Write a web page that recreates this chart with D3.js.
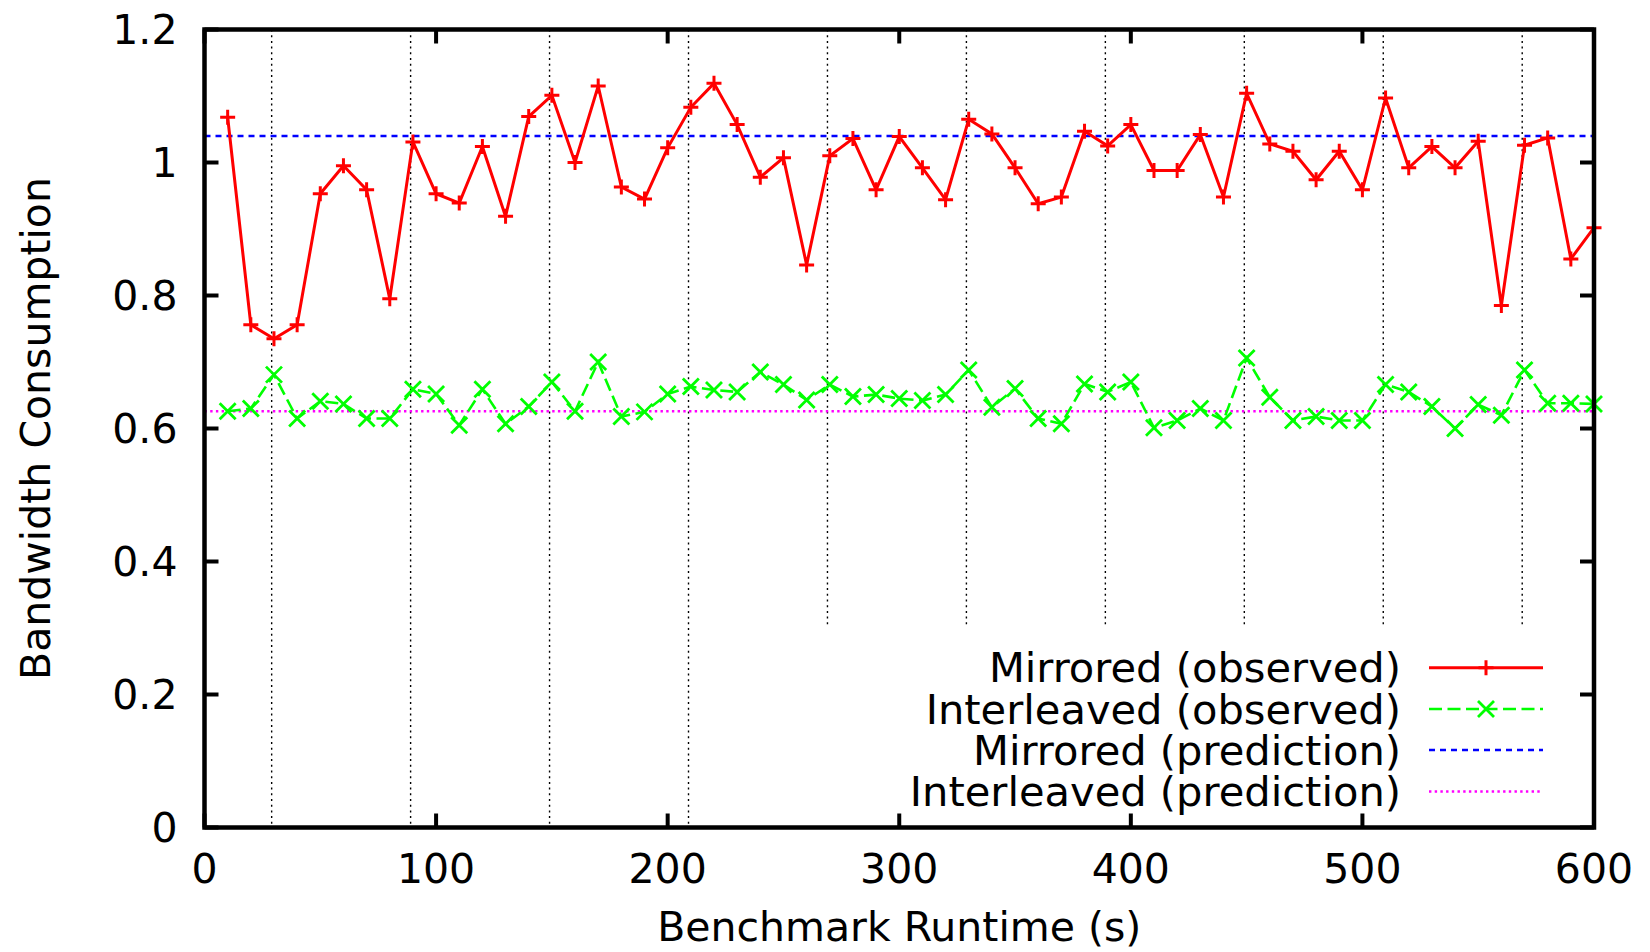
<!DOCTYPE html>
<html>
<head>
<meta charset="utf-8">
<script src="https://cdn.jsdelivr.net/npm/d3@7"></script>
<style>
  body { margin: 0; background: #fff; }
  text { font-family: "DejaVu Sans", sans-serif; }
</style>
</head>
<body>
<div class="chart"></div>
<script>
// sample times (s)
const times = [10, 20, 30, 40, 50, 60, 70, 80, 90, 100,
    110, 120, 130, 140, 150, 160, 170, 180, 190, 200,
    210, 220, 230, 240, 250, 260, 270, 280, 290, 300,
    310, 320, 330, 340, 350, 360, 370, 380, 390, 400,
    410, 420, 430, 440, 450, 460, 470, 480, 490, 500,
    510, 520, 530, 540, 550, 560, 570, 580, 590, 600];

const mirroredObserved = [1.068, 0.756, 0.735, 0.756, 0.953, 0.995, 0.959, 0.795, 1.031, 0.953,
    0.939, 1.024, 0.919, 1.069, 1.101, 1.000, 1.115, 0.963, 0.945, 1.022,
    1.083, 1.119, 1.057, 0.978, 1.007, 0.846, 1.010, 1.036, 0.959, 1.039,
    0.992, 0.944, 1.065, 1.043, 0.992, 0.938, 0.948, 1.047, 1.025, 1.057,
    0.988, 0.988, 1.042, 0.948, 1.104, 1.028, 1.017, 0.974, 1.017, 0.959,
    1.097, 0.992, 1.024, 0.992, 1.032, 0.785, 1.026, 1.037, 0.855, 0.902];

const interleavedObserved = [0.626, 0.630, 0.681, 0.615, 0.641, 0.637, 0.615, 0.615, 0.659, 0.652,
    0.605, 0.659, 0.607, 0.633, 0.670, 0.626, 0.700, 0.618, 0.625, 0.652,
    0.663, 0.658, 0.655, 0.685, 0.666, 0.643, 0.666, 0.648, 0.651, 0.645,
    0.642, 0.651, 0.688, 0.632, 0.660, 0.615, 0.607, 0.667, 0.655, 0.670,
    0.601, 0.612, 0.630, 0.612, 0.706, 0.647, 0.612, 0.618, 0.612, 0.612,
    0.666, 0.655, 0.633, 0.600, 0.636, 0.620, 0.688, 0.638, 0.638, 0.637];

const mirroredPrediction = 1.04;
const interleavedPrediction = 0.626;

// dotted markers (s)
const phaseMarks = [29, 89, 149, 209, 269, 329, 389, 449, 509, 569];

const xTicks = [0, 100, 200, 300, 400, 500, 600];
const yTicks = [0, 0.2, 0.4, 0.6, 0.8, 1.0, 1.2];

const legendLabels = ["Mirrored (observed)", "Interleaved (observed)",
    "Mirrored (prediction)", "Interleaved (prediction)"];

// size and margins
const width = 1650,
    height = 952;
const margin = { top: 29.5, right: 56, bottom: 124.5, left: 204.5 };
const fontSize = 41;

const svg = d3.select(".chart")
    .append("svg")
    .attr("width", width)
    .attr("height", height);

const x = d3.scaleLinear().domain([0, 600]).range([margin.left, width - margin.right]);
const y = d3.scaleLinear().domain([0, 1.2]).range([height - margin.bottom, margin.top]);

// vertical dotted lines
svg.selectAll(".phase")
    .data(phaseMarks)
    .join("line")
    .attr("x1", d => x(d)).attr("x2", d => x(d))
    .attr("y1", y(1.2)).attr("y2", y(0))
    .attr("stroke", "#000")
    .attr("stroke-width", 1.4)
    .attr("stroke-dasharray", "2,3.7");

// opaque key box
svg.append("rect")
    .attr("x", x(262))
    .attr("y", 628)
    .attr("width", x(600) - x(262))
    .attr("height", y(0) - 628)
    .attr("fill", "#fff");

// prediction lines
svg.append("line")
    .attr("x1", x(0)).attr("x2", x(600))
    .attr("y1", y(mirroredPrediction)).attr("y2", y(mirroredPrediction))
    .attr("stroke", "#0000ff")
    .attr("stroke-width", 2.5)
    .attr("stroke-dasharray", "6,5");

svg.append("line")
    .attr("x1", x(0)).attr("x2", x(600))
    .attr("y1", y(interleavedPrediction)).attr("y2", y(interleavedPrediction))
    .attr("stroke", "#ff00ff")
    .attr("stroke-width", 2.6)
    .attr("stroke-dasharray", "2.4,3.3");

const plusPath = "M-7.5,0H7.5M0,-7.5V7.5";
const crossPath = "M-8,-8L8,8M-8,8L8,-8";

const line = d3.line()
    .x(d => x(d[0]))
    .y(d => y(d[1]));

const green = d3.zip(times, interleavedObserved);
const red = d3.zip(times, mirroredObserved);

svg.append("path")
    .datum(green)
    .attr("d", line)
    .attr("fill", "none")
    .attr("stroke", "#00ff00")
    .attr("stroke-width", 2.6)
    .attr("stroke-dasharray", "13,5.5");

svg.selectAll(".gmark")
    .data(green)
    .join("path")
    .attr("d", crossPath)
    .attr("transform", d => `translate(${x(d[0])},${y(d[1])})`)
    .attr("stroke", "#00ff00")
    .attr("stroke-width", 2.8)
    .attr("fill", "none");

svg.append("path")
    .datum(red)
    .attr("d", line)
    .attr("fill", "none")
    .attr("stroke", "#ff0000")
    .attr("stroke-width", 3);

svg.selectAll(".rmark")
    .data(red)
    .join("path")
    .attr("d", plusPath)
    .attr("transform", d => `translate(${x(d[0])},${y(d[1])})`)
    .attr("stroke", "#ff0000")
    .attr("stroke-width", 3)
    .attr("fill", "none");

// frame + ticks (mirrored on all sides)
const tickLen = 14;
const ticks = svg.append("g").attr("stroke", "#000").attr("stroke-width", 4);

ticks.selectAll(".xb").data(xTicks).join("line")
    .attr("x1", d => x(d)).attr("x2", d => x(d))
    .attr("y1", y(0)).attr("y2", y(0) - tickLen);
ticks.selectAll(".xt").data(xTicks).join("line")
    .attr("x1", d => x(d)).attr("x2", d => x(d))
    .attr("y1", y(1.2)).attr("y2", y(1.2) + tickLen);
ticks.selectAll(".yl").data(yTicks).join("line")
    .attr("x1", x(0)).attr("x2", x(0) + tickLen)
    .attr("y1", d => y(d)).attr("y2", d => y(d));
ticks.selectAll(".yr").data(yTicks).join("line")
    .attr("x1", x(600)).attr("x2", x(600) - tickLen)
    .attr("y1", d => y(d)).attr("y2", d => y(d));

svg.append("rect")
    .attr("x", x(0))
    .attr("y", y(1.2))
    .attr("width", x(600) - x(0))
    .attr("height", y(0) - y(1.2))
    .attr("fill", "none")
    .attr("stroke", "#000")
    .attr("stroke-width", 4.5);

// tick labels
svg.selectAll(".xlab").data(xTicks).join("text")
    .attr("x", d => x(d))
    .attr("y", y(0) + 55)
    .attr("text-anchor", "middle")
    .style("font-size", fontSize + "px")
    .text(d => d);

svg.selectAll(".ylab").data(yTicks).join("text")
    .attr("x", x(0) - 27)
    .attr("y", d => y(d) + 14.5)
    .attr("text-anchor", "end")
    .style("font-size", fontSize + "px")
    .text(d => d === 0 ? "0" : (d === 1 ? "1" : d3.format(".1f")(d)));

// axis titles
svg.append("text")
    .attr("x", (x(0) + x(600)) / 2)
    .attr("y", 941)
    .attr("text-anchor", "middle")
    .style("font-size", fontSize + "px")
    .text("Benchmark Runtime (s)");

svg.append("text")
    .attr("transform", `translate(50, ${(y(0) + y(1.2)) / 2}) rotate(-90)`)
    .attr("text-anchor", "middle")
    .style("font-size", fontSize + "px")
    .text("Bandwidth Consumption");

// legend
const rowY = [667.7, 709, 750, 791.5];
const key = svg.append("g");
key.selectAll("text").data(legendLabels).join("text")
    .attr("x", 1401)
    .attr("y", (d, i) => rowY[i] + 14.5)
    .attr("text-anchor", "end")
    .style("font-size", "41.6px")
    .text(d => d);

const sx1 = 1429, sx2 = 1543, sm = 1486;
key.append("line").attr("x1", sx1).attr("x2", sx2).attr("y1", rowY[0]).attr("y2", rowY[0])
    .attr("stroke", "#ff0000").attr("stroke-width", 3);
key.append("path").attr("d", plusPath).attr("transform", `translate(${sm},${rowY[0]})`)
    .attr("stroke", "#ff0000").attr("stroke-width", 3);
key.append("line").attr("x1", sx1).attr("x2", sx2).attr("y1", rowY[1]).attr("y2", rowY[1])
    .attr("stroke", "#00ff00").attr("stroke-width", 2.6).attr("stroke-dasharray", "13,5.5");
key.append("path").attr("d", crossPath).attr("transform", `translate(${sm},${rowY[1]})`)
    .attr("stroke", "#00ff00").attr("stroke-width", 2.8);
key.append("line").attr("x1", sx1).attr("x2", sx2).attr("y1", rowY[2]).attr("y2", rowY[2])
    .attr("stroke", "#0000ff").attr("stroke-width", 2.5).attr("stroke-dasharray", "6,5");
key.append("line").attr("x1", sx1).attr("x2", sx2).attr("y1", rowY[3]).attr("y2", rowY[3])
    .attr("stroke", "#ff00ff").attr("stroke-width", 2.6).attr("stroke-dasharray", "2.4,3.3");
</script>
</body>
</html>
